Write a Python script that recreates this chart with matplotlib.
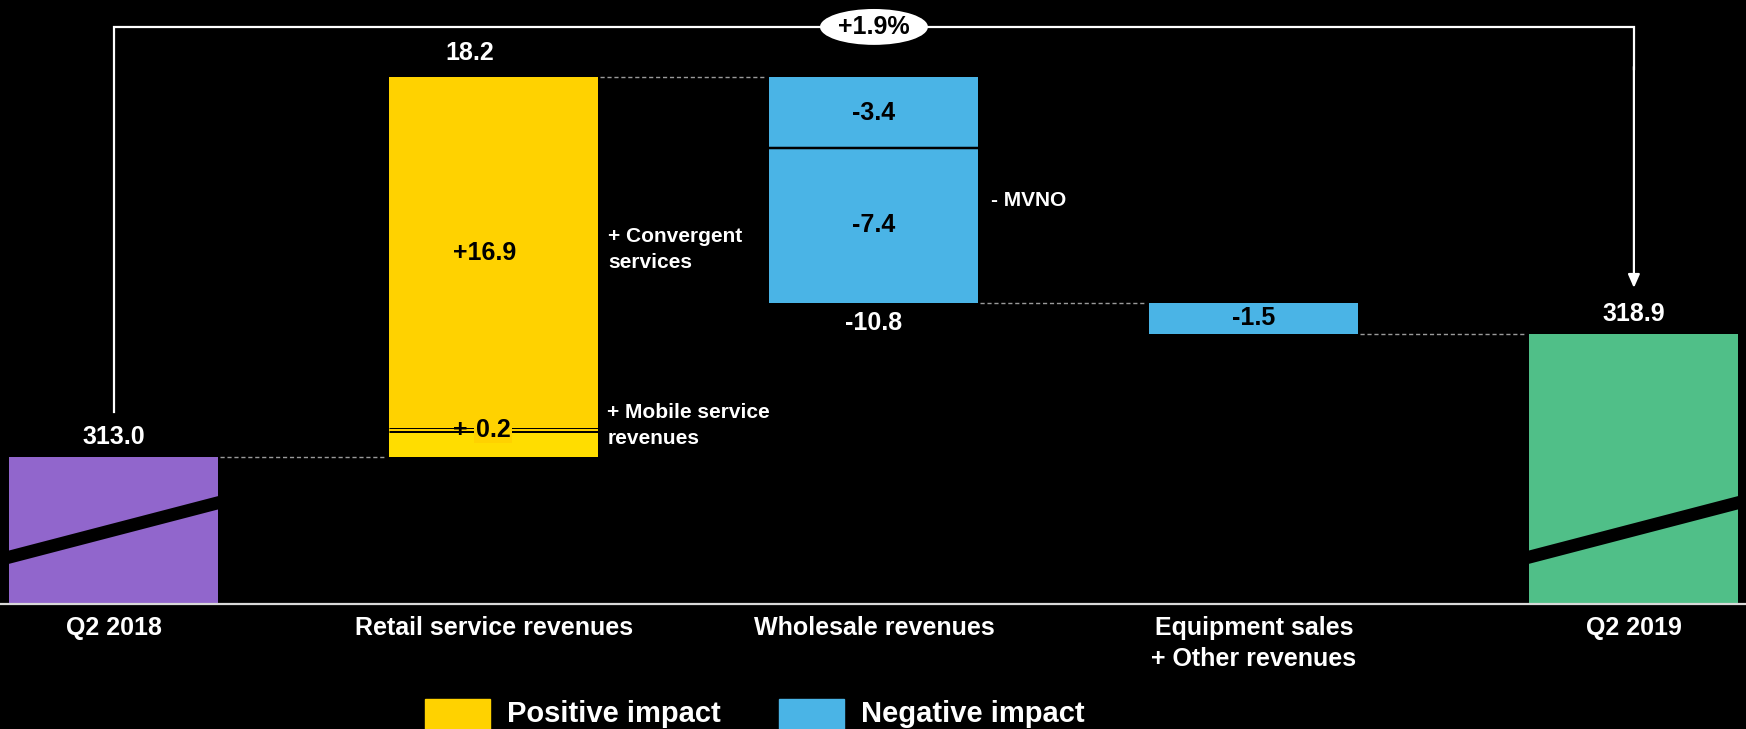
import matplotlib as mpl
import matplotlib.pyplot as plt
from matplotlib.patches import Ellipse, Polygon, Rectangle

mpl.use("Agg")

# revenue bridge, EUR m
categories = ["Q2 2018", "Retail service revenues", "Wholesale revenues",
              "Equipment sales\n+ Other revenues", "Q2 2019"]
start_value = 313.0
end_value = 318.9
deltas = [18.2, -10.8, -1.5]
retail_convergent = 16.9
retail_mobile = 0.2
wholesale_parts = [-3.4, -7.4]
change_label = "+1.9%"

PURPLE = "#9166cc"
YELLOW = "#ffd200"
YELLOW_LIGHT = "#ffdd00"
BLUE = "#4ab4e6"
GREEN = "#50bf88"
DASH = "#9a9a9a"

plt.rcParams["font.family"] = ["Liberation Sans", "DejaVu Sans"]
plt.rcParams["font.weight"] = "bold"

y_floor = 305.96
width = 0.55
px = 0.72  # points per pixel at dpi 100

fig = plt.figure(figsize=(17.46, 7.29), dpi=100, facecolor="black")
ax = fig.add_axes([0, 0.1715, 1, 0.8285])
ax.set_facecolor("black")
ax.set_xlim(-0.3, 4.295)
ax.set_ylim(y_floor, 334.89)
for s in ax.spines.values():
    s.set_visible(False)
ax.set_yticks([])
ax.set_xticks(range(len(categories)), categories, color="white",
              fontsize=18, fontweight="bold", linespacing=1.38)
ax.tick_params(axis="x", length=0, pad=8.5)

# running totals
levels = [start_value]
for d in deltas:
    levels.append(round(levels[-1] + d, 1))

# totals with a break stripe
for x, val, col in [(0, start_value, PURPLE), (4, end_value, GREEN)]:
    ax.bar(x, val - y_floor, bottom=y_floor, width=width, color=col, zorder=2)
    xl, xr = x - width / 2 - 0.01, x + width / 2 + 0.01
    yl, yr, t = y_floor + 2.2, y_floor + 4.9, 0.32
    ax.add_patch(Polygon([(xl, yl - t), (xr, yr - t), (xr, yr + t), (xl, yl + t)],
                         closed=True, color="black", zorder=3, lw=0))
    ax.annotate(f"{val:.1f}", (x, val), xytext=(0, 20 * px), textcoords="offset points",
                ha="center", va="center", color="white", fontsize=18)

# retail: convergent on top of mobile/other
r0, r1 = levels[0], levels[1]
split = r1 - retail_convergent
ax.bar(1, split - r0, bottom=r0, width=width, color=YELLOW_LIGHT, zorder=2)
ax.bar(1, r1 - split, bottom=split, width=width, color=YELLOW, zorder=2)
ax.plot([1 - width / 2, 1 + width / 2], [split, split], color="black", lw=5 * px, zorder=3,
        solid_capstyle="butt")
ax.plot([1 - width / 2, 1 + width / 2], [split, split], color=YELLOW, lw=2 * px, zorder=3,
        solid_capstyle="butt")
ax.annotate("+", (1, split), xytext=(-34 * px, 0), textcoords="offset points",
            ha="center", va="center", color="black", fontsize=18, zorder=5)
ax.annotate(f"{retail_mobile:.1f}", (1, split), xytext=(-1 * px, 0), textcoords="offset points",
            ha="center", va="center", color="black", fontsize=18, zorder=5,
            bbox=dict(boxstyle="square,pad=0.05", fc=YELLOW, ec="none"))
ax.annotate(f"{deltas[0]:.1f}", (1, r1), xytext=(-24 * px, 24 * px), textcoords="offset points",
            ha="center", va="center", color="white", fontsize=18)
ax.annotate(f"+{retail_convergent:.1f}", ((1), (split + r1) / 2), xytext=(-9 * px, 0),
            textcoords="offset points", ha="center", va="center", color="black", fontsize=18)
ax.annotate("+ Convergent\nservices", (1 + width / 2, (split + r1) / 2), xytext=(10 * px, 4 * px),
            textcoords="offset points", ha="left", va="center", color="white", fontsize=15,
            linespacing=1.45)
ax.annotate("+ Mobile service\nrevenues", (1 + width / 2, split), xytext=(9 * px, 4 * px),
            textcoords="offset points", ha="left", va="center", color="white", fontsize=15,
            linespacing=1.45)

# wholesale, split into two pieces
top = levels[1]
for i, part in enumerate(wholesale_parts):
    ax.bar(2, part, bottom=top, width=width, color=BLUE, zorder=2)
    ax.annotate(f"{part:.1f}", (2, top + part / 2), ha="center", va="center",
                color="black", fontsize=18)
    if i == 0:
        ax.plot([2 - width / 2, 2 + width / 2], [top + part] * 2, color="black",
                lw=2.5 * px, zorder=3, solid_capstyle="butt")
    else:
        ax.annotate("- MVNO", (2 + width / 2, top + part / 2), xytext=(13 * px, 25 * px),
                    textcoords="offset points", ha="left", va="center", color="white",
                    fontsize=15)
    top += part
ax.annotate(f"{deltas[1]:.1f}", (2, levels[2]), xytext=(0, -20 * px), textcoords="offset points",
            ha="center", va="center", color="white", fontsize=18)

# equipment + other
ax.bar(3, deltas[2], bottom=levels[2], width=width, color=BLUE, zorder=2)
ax.annotate(f"{deltas[2]:.1f}", (3, levels[2] + deltas[2] / 2), ha="center", va="center",
            color="black", fontsize=18)

# dashed connectors between bars
for i, lvl in enumerate(levels):
    ax.hlines(lvl, i + width / 2 + 0.004, i + 1 - width / 2 - 0.01, colors=DASH,
              linestyles=(0, (3, 2)), lw=1.0, zorder=1)

# baseline
ax.axhline(y_floor, color="#d9d9d9", lw=1.6, zorder=4, clip_on=False)

# growth arrow over the chart
gap = 2.15
y_top = 333.6
ax.plot([0, 0, 4, 4], [start_value + gap, y_top, y_top, y_top - 2], color="white",
        lw=1.6, zorder=4, solid_joinstyle="miter")
ax.annotate("", xy=(4, end_value + gap + 0.05), xytext=(4, y_top - 1.9),
            arrowprops=dict(arrowstyle="-|>,head_length=0.8,head_width=0.35", color="white",
                            lw=1.6, shrinkA=0, shrinkB=0), zorder=4)
ax.add_patch(Ellipse((2, y_top), 0.284, 1.72, fc="white", ec="none", zorder=5))
ax.text(2, y_top, change_label, ha="center", va="center", color="black",
        fontsize=18, zorder=6)

# legend
for x0, col, lab in [(425, YELLOW, "Positive impact"), (779, BLUE, "Negative impact")]:
    fig.patches.append(Rectangle((x0 / 1746, -0.02), 65 / 1746, 30 / 729 + 0.02,
                                 transform=fig.transFigure, color=col))
    fig.text((x0 + 82) / 1746, 15 / 729, lab, ha="left", va="center", color="white",
             fontsize=21, fontweight="bold")

fig.savefig("out.png", dpi=100, facecolor="black")
